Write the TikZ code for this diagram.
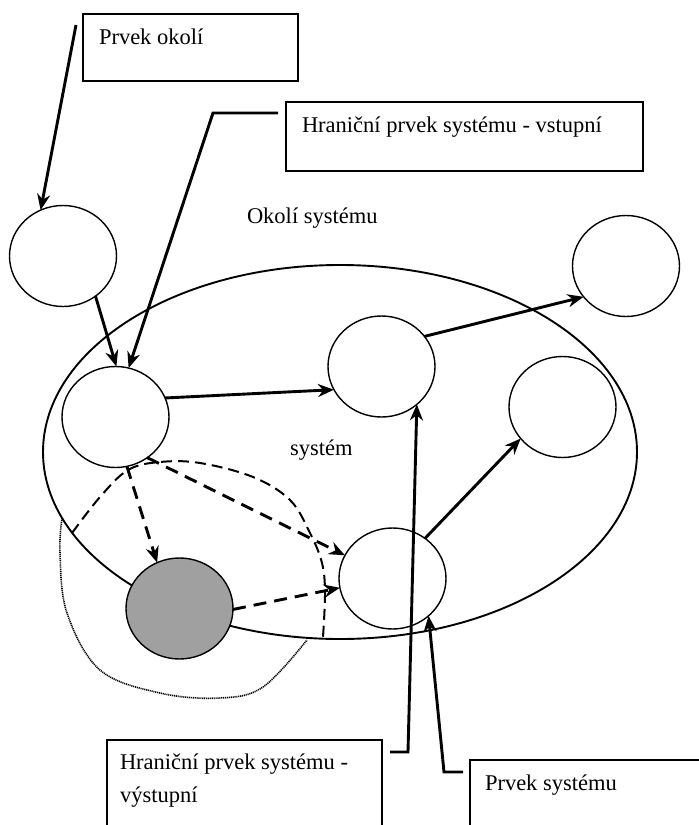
\documentclass[tikz,border=0pt]{standalone}
\usepackage{fontspec}
\setmainfont{Liberation Serif}
\usetikzlibrary{arrows.meta,shapes.geometric}
\definecolor{shade}{HTML}{A0A0A0}
\begin{document}
\begin{tikzpicture}[x=1pt,y=-1pt,
  every node/.style={inner sep=0pt, outer sep=0pt},
  txt/.style={anchor=base west, font=\fontsize{22.5}{33}\selectfont},
  callout/.style={draw, line width=1.6pt, anchor=north west},
  elem/.style={draw, ellipse, line width=1.4pt, fill=white,
               minimum width=107pt, minimum height=101pt},
  link/.style={line width=2.9pt, -{Stealth[length=16pt,width=13pt]}},
  flow/.style={link, dash pattern=on 13pt off 8pt},
  subsys/.style={line width=2pt, dash pattern=on 11pt off 6pt},
  outline/.style={line width=1.6pt, dash pattern=on 1.1pt off 0.8pt},
]
\useasboundingbox (0,0) rectangle (699,825);
\clip (0,0) rectangle (699,825);

% system boundary
\node[draw, ellipse, line width=1.9pt, minimum width=594pt, minimum height=374pt] (sys) at (340,452) {};
\node[txt] (okoli) at (247,223) {Okolí systému};
\node[txt] (system) at (290,455) {systém};

% subsystem outlines
\draw[subsys] plot[smooth, tension=0.6] coordinates {(72,533) (100,497) (128,470) (160,462) (200,463) (253,477) (290,500) (310,533) (322,563) (325,593) (323,637)};
\draw[outline] plot[smooth, tension=0.6] coordinates {(62,518) (60,553) (67,613) (100,670) (160,693) (220,698) (263,687) (307,640)};

% elements
\node[elem] (c1) at (63,256) {};
\node[elem] (c2) at (115.5,417) {};
\node[elem] (c3) at (381.5,366.5) {};
\node[elem] (c4) at (626,266) {};
\node[elem] (c5) at (562.5,407) {};
\node[elem] (c6) at (392.5,578.5) {};
\node[elem, fill=shade] (c7) at (179.5,608.5) {};

% callout boxes
\node[callout, minimum width=215pt, minimum height=67pt] (b1) at (83,14) {};
\node[txt] (t1) at ([xshift=16pt,yshift=-30pt]b1.north west) {Prvek okolí};
\node[callout, minimum width=357pt, minimum height=69pt] (b2) at (286,102) {};
\node[txt] (t2) at ([xshift=16pt,yshift=-30pt]b2.north west) {Hraniční prvek systému - vstupní};
\node[callout, minimum width=275pt, minimum height=120pt] (b3) at (107,740) {};
\node[txt] (t3) at ([xshift=13pt,yshift=-29pt]b3.north west) {Hraniční prvek systému -};
\node[txt] (t3b) at ([yshift=-33pt]t3.base west) {výstupní};
\node[callout, minimum width=260pt, minimum height=100pt] (b4) at (470,760) {};
\node[txt] (t4) at ([xshift=15pt,yshift=-30pt]b4.north west) {Prvek systému};

% callout leaders
\coordinate (s1) at (76,25);
\draw[link] (s1) -- (c1.116);
\coordinate (s2) at (278,113);
\coordinate (k2) at (213,113);
\draw[link] (s2) -- (k2) -- (c2.75);
\coordinate (s3) at (390,752);
\coordinate (k3) at (408,752);
\draw[link] (s3) -- (k3) -- (c3.-47);
\coordinate (s4) at (463,772);
\coordinate (k4) at (444,772);
\draw[link] (s4) -- (k4) -- (c6.-46);

% relations
\draw[link] (c1.-51) -- (c2.89);
\draw[link] (c2.21) -- (c3.206);
\draw[link] (c3.35) -- (c4.216);
\draw[link] (c6.51) -- (c5.217);
\draw[flow] (c2.-77) -- (c7.116);
\draw[flow] (c2.-52) -- (c6.154);
\draw[flow] (c7.-1) -- (c6.190);
\end{tikzpicture}
\end{document}
